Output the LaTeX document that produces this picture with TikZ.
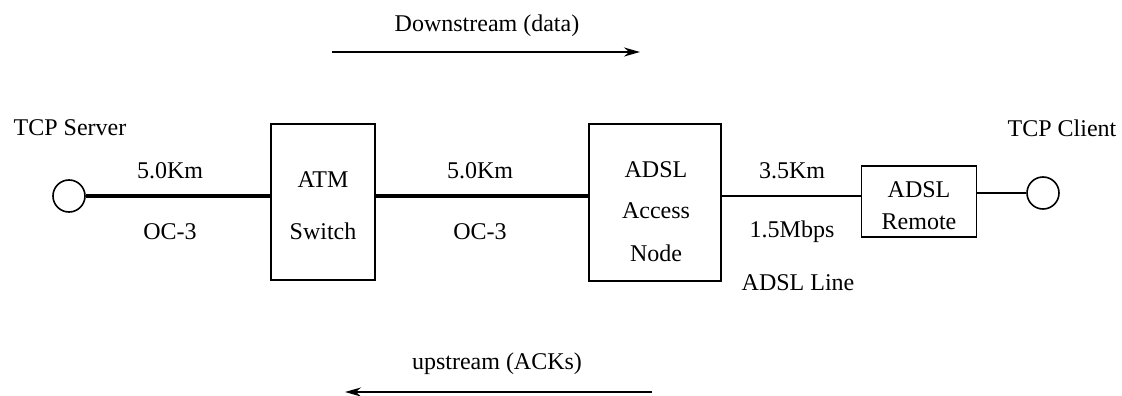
\documentclass[tikz,border=0pt]{standalone}
\usepackage{fontspec}
\setmainfont{Liberation Serif}
\usetikzlibrary{arrows.meta}
\begin{document}
\begin{tikzpicture}[x=1pt,y=-1pt,
  lbl/.style={font=\fontsize{24}{28}\selectfont, inner sep=0pt},
  unit/.style={draw, line width=1.6pt, inner sep=0pt},
  endpt/.style={draw, circle, line width=1.6pt, minimum size=32pt, inner sep=0pt},
  trunk/.style={line width=4.5pt},
  loop/.style={line width=1.8pt},
  flow/.style={line width=1.8pt, -{Stealth[length=16pt,width=9pt]}}]
\useasboundingbox (0,0) rectangle (1122,396);

% end hosts
\node[endpt] (srv) at (69,196) {};
\node[endpt] (cli) at (1043,193) {};
\node[lbl] (srvlbl) at (70,128) {TCP Server};
\node[lbl] (clilbl) at (1062,128) {TCP Client};

% network elements
\node[unit, minimum width=104pt, minimum height=156pt] (atm) at (323,202) {};
\node[lbl] (atm1) at (323,180) {ATM};
\node[lbl] (atm2) at (323,231) {Switch};

\node[unit, minimum width=132pt, minimum height=157pt] (an) at (655,202.5) {};
\node[lbl] (an1) at (656,170) {ADSL};
\node[lbl] (an2) at (656,211) {Access};
\node[lbl] (an3) at (656,253) {Node};

\node[unit, minimum width=115pt, minimum height=71pt] (rem) at (919,201.5) {};
\node[lbl] (rem1) at (919,190) {ADSL};
\node[lbl] (rem2) at (919,222) {Remote};

% links
\draw[trunk] (srv.east) -- (srv.east -| atm.west);
\draw[trunk] (atm.east |- 0,196) -- (an.west |- 0,196);
\draw[loop] (an.east |- 0,196) -- (rem.west |- 0,196);
\draw[loop] (rem.east |- cli) -- (cli.west);

% link labels
\node[lbl] (l1a) at (170,171) {5.0Km};
\node[lbl] (l1b) at (170,232) {OC-3};
\node[lbl] (l2a) at (480,171) {5.0Km};
\node[lbl] (l2b) at (480,232) {OC-3};
\node[lbl] (l3a) at (792,171) {3.5Km};
\node[lbl] (l3b) at (792,232) {1.5Mbps};
\node[lbl] (l3c) at (798,283) {ADSL Line};

% traffic directions
\node[lbl] (down) at (487,26) {Downstream (data)};
\coordinate (d0) at (332,52);
\coordinate (d1) at (640,52);
\draw[flow] (d0) -- (d1);
\node[lbl] (up) at (497,364) {upstream (ACKs)};
\coordinate (u0) at (652,392);
\coordinate (u1) at (345,392);
\draw[flow] (u0) -- (u1);
\end{tikzpicture}
\end{document}
